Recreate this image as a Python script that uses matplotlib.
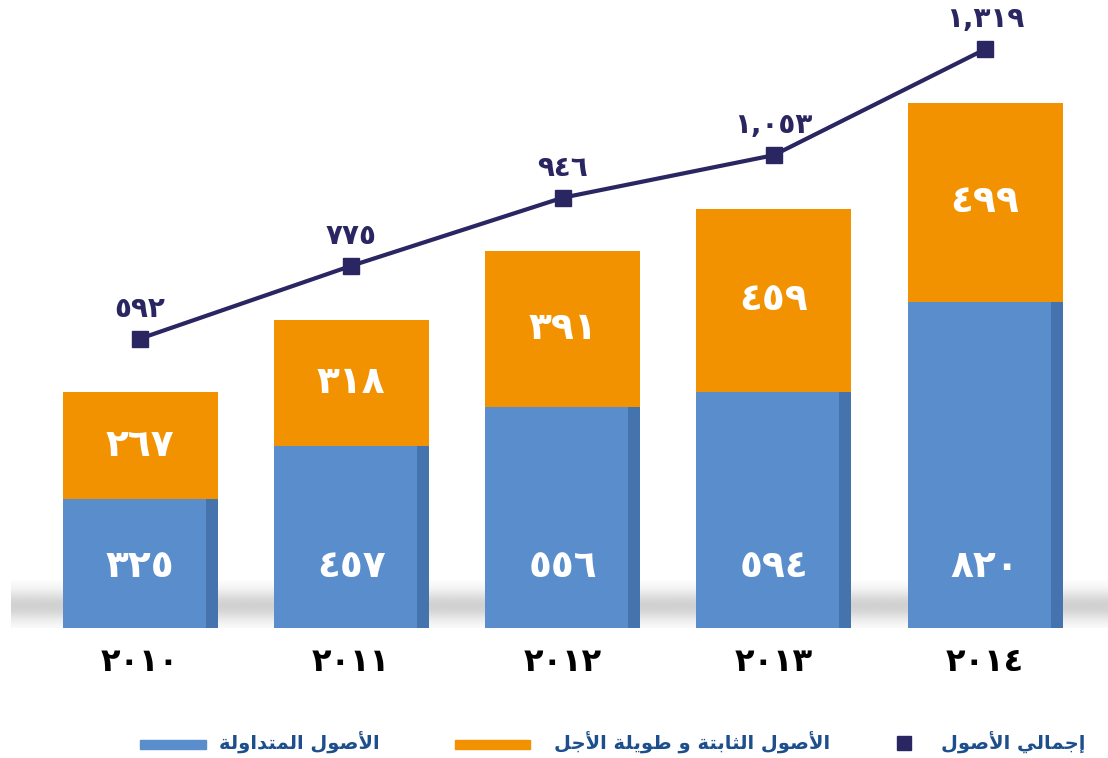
import numpy as np
import matplotlib
matplotlib.use("Agg")
import matplotlib.pyplot as plt
from matplotlib.patches import Rectangle

# ---------------- data ----------------
years = ["٢٠١٠", "٢٠١١", "٢٠١٢", "٢٠١٣", "٢٠١٤"]
current_assets = [325, 457, 556, 594, 820]
fixed_assets = [267, 318, 391, 459, 499]
total_assets = [592, 775, 946, 1053, 1319]
current_labels = ["٣٢٥", "٤٥٧", "٥٥٦", "٥٩٤", "٨٢٠"]
fixed_labels = ["٢٦٧", "٣١٨", "٣٩١", "٤٥٩", "٤٩٩"]
total_labels = ["٥٩٢", "٧٧٥", "٩٤٦", "١,٠٥٣", "١,٣١٩"]
legend_total = "إجمالي الأصول"
legend_fixed = "الأصول الثابتة و طويلة الأجل"
legend_current = "الأصول المتداولة"

# ------------- simple Arabic shaping (presentation forms) -------------
DUAL = {
    'ب': (0xFE8F, 0xFE90, 0xFE91, 0xFE92), 'ت': (0xFE95, 0xFE96, 0xFE97, 0xFE98),
    'ث': (0xFE99, 0xFE9A, 0xFE9B, 0xFE9C), 'ج': (0xFE9D, 0xFE9E, 0xFE9F, 0xFEA0),
    'ص': (0xFEB9, 0xFEBA, 0xFEBB, 0xFEBC), 'ط': (0xFEC1, 0xFEC2, 0xFEC3, 0xFEC4),
    'ل': (0xFEDD, 0xFEDE, 0xFEDF, 0xFEE0), 'م': (0xFEE1, 0xFEE2, 0xFEE3, 0xFEE4),
    'ي': (0xFEF1, 0xFEF2, 0xFEF3, 0xFEF4),
}
RIGHT = {'ا': (0xFE8D, 0xFE8E), 'أ': (0xFE83, 0xFE84), 'إ': (0xFE87, 0xFE88),
         'د': (0xFEA9, 0xFEAA), 'و': (0xFEED, 0xFEEE), 'ة': (0xFE93, 0xFE94)}
LAMALEF = {'ا': (0xFEFB, 0xFEFC), 'أ': (0xFEF7, 0xFEF8), 'إ': (0xFEF9, 0xFEFA)}


def shape_word(w):
    units = []
    i = 0
    while i < len(w):
        c = w[i]
        if c == 'ل' and i + 1 < len(w) and w[i + 1] in LAMALEF:
            units.append(('la', w[i + 1]))
            i += 2
        else:
            units.append(('d' if c in DUAL else 'r', c))
            i += 1
    out = []
    for k, (kind, c) in enumerate(units):
        p = k > 0 and units[k - 1][0] == 'd'
        n = kind == 'd' and k < len(units) - 1
        if kind == 'd':
            f = DUAL[c]
            code = f[3] if (p and n) else f[1] if p else f[2] if n else f[0]
        elif kind == 'r':
            f = RIGHT[c]
            code = f[1] if p else f[0]
        else:
            f = LAMALEF[c]
            code = f[1] if p else f[0]
        out.append(chr(code))
    return ''.join(out)


def ar(s):
    return ' '.join(shape_word(w) for w in s.split(' '))[::-1]


# ---------------- figure ----------------
W, H = 1108, 758
fig = plt.figure(figsize=(W / 100, H / 100), dpi=100)
base_px = 628
ax = fig.add_axes([0, (H - base_px) / H, 1, base_px / H])
scale = 0.398  # px per unit
ytop = base_px / scale
x = np.arange(len(years))
spacing = 211.25
x0 = 140
ax.set_xlim(-x0 / spacing, (W - x0) / spacing)
ax.set_ylim(0, ytop)

blue = "#5a8dcc"
orange = "#f39200"
navy = "#2a2662"

# floor shadow
grad = np.linspace(0, 1, 80)
prof = np.exp(-((grad - 0.5) / 0.3) ** 2)
img = np.ones((80, 2, 4))
img[..., :3] = 0.6
img[..., 3] = (prof[::-1] * 0.45)[:, None]
ax.imshow(img, extent=[0.01, 1.0, -0.005, 0.075], transform=ax.transAxes,
          aspect='auto', zorder=0, interpolation='bilinear')

bw = 155 / spacing
ax.bar(x, current_assets, width=bw, color=blue, zorder=2, linewidth=0)
ax.bar(x, fixed_assets, width=bw, bottom=current_assets, color=orange, zorder=2, linewidth=0)
# darker right side for slight 3D look
ax.bar(x + bw / 2 - 6 / spacing, current_assets, width=12 / spacing, color="#2f5a92",
       alpha=0.5, zorder=3, linewidth=0)

for i in range(len(years)):
    ax.text(x[i], 153, current_labels[i], ha='center', va='center', color='white',
            fontsize=27, fontweight='bold', zorder=5)
    ax.text(x[i], current_assets[i] + fixed_assets[i] / 2, fixed_labels[i], ha='center',
            va='center', color='white', fontsize=27, fontweight='bold', zorder=5)

# total line on offset twin axis
ax2 = ax.twinx()
off = 135
ax2.set_ylim(-off, ytop - off)
ax2.plot(x, total_assets, color=navy, lw=3, marker='s', markersize=11, zorder=6)
for i in range(len(years)):
    ax2.annotate(total_labels[i], (x[i], total_assets[i]), xytext=(0, 30),
                 textcoords='offset pixels', ha='center', va='center', color=navy,
                 fontsize=20, fontweight='bold')

for a in (ax, ax2):
    for s in a.spines.values():
        s.set_visible(False)
    a.set_yticks([])
ax.set_xticks(x, years)
ax.tick_params(axis='x', length=0, pad=14, labelsize=23)
for t in ax.get_xticklabels():
    t.set_fontweight('bold')
ax2.tick_params(axis='x', length=0)

# legend (manual)
leg_col = "#1d4f8c"
yl = (H - 743) / H
fig.patches.append(Rectangle((897 / W, (H - 750) / H), 14 / W, 14 / H, transform=fig.transFigure,
                             color=navy))
fig.text(1085 / W, yl, ar(legend_total), ha='right', va='center', color=leg_col,
         fontsize=14, fontweight='bold')
fig.patches.append(Rectangle((455 / W, (H - 749) / H), 75 / W, 9 / H, transform=fig.transFigure,
                             color=orange))
fig.text(830 / W, yl, ar(legend_fixed), ha='right', va='center', color=leg_col,
         fontsize=14, fontweight='bold')
fig.patches.append(Rectangle((140 / W, (H - 749) / H), 66 / W, 9 / H, transform=fig.transFigure,
                             color=blue))
fig.text(380 / W, yl, ar(legend_current), ha='right', va='center', color=leg_col,
         fontsize=14, fontweight='bold')

fig.savefig("out.png", dpi=100)
